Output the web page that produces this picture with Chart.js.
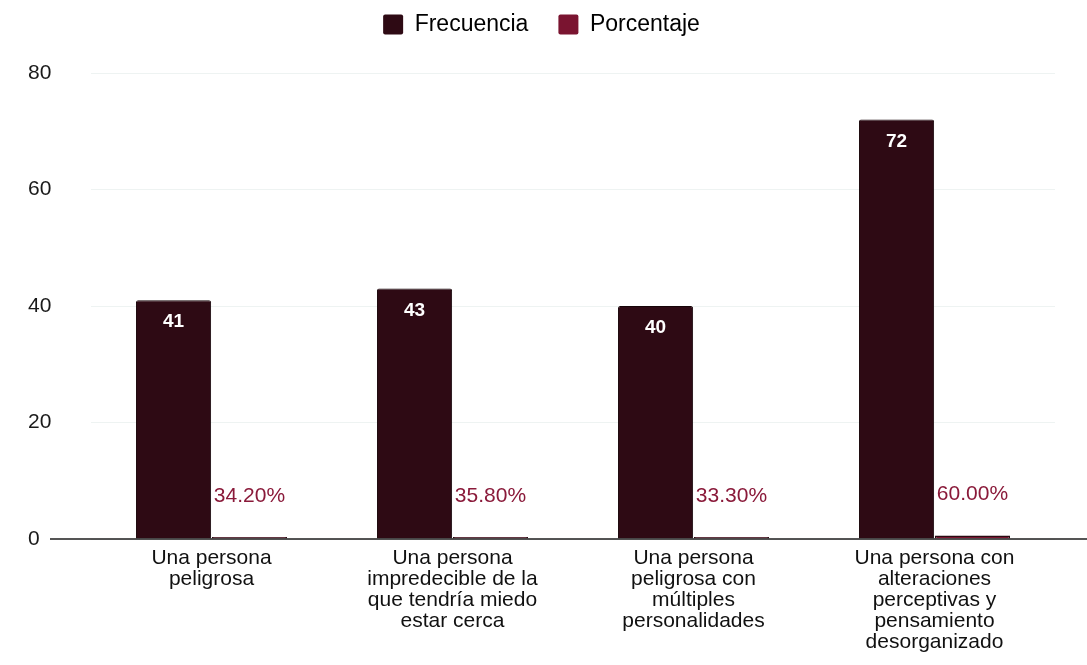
<!DOCTYPE html>
<html>
<head>
<meta charset="utf-8">
<script src="https://cdn.jsdelivr.net/npm/chart.js@4"></script>
<style>
  html, body { margin: 0; padding: 0; background: #fff; }
  #wrap { width: 1087px; height: 665px; position: relative; }
</style>
</head>
<body>
<div id="wrap"><canvas id="chart"></canvas></div>
<script>
// categories (multi-line labels) and series
const categories = [
    ["Una persona", "peligrosa"],
    ["Una persona", "impredecible de la", "que tendría miedo", "estar cerca"],
    ["Una persona", "peligrosa con", "múltiples", "personalidades"],
    ["Una persona con", "alteraciones", "perceptivas y", "pensamiento", "desorganizado"]
];
const frecuencia = [41, 43, 40, 72];
const porcentaje = [0.342, 0.358, 0.333, 0.60];
const yTicks = [0, 20, 40, 60, 80];

const FONT = "'Liberation Sans', Arial, sans-serif";

// give the legend a fixed height so the plot starts where the reference does
const legendSpacer = {
    id: "legendSpacer",
    beforeInit(chart) {
        const origFit = chart.legend.fit;
        chart.legend.fit = function () {
            origFit.call(this);
            this.height = 90;
        };
    }
};

// draws value labels + the long baseline
const labelPlugin = {
    id: "labels",
    afterDatasetsDraw(chart) {
        const ctx = chart.ctx;
        const y0 = chart.scales.y.getPixelForValue(0);

        ctx.save();
        ctx.strokeStyle = "#1c1c1c";
        ctx.lineWidth = 1.5;
        ctx.beginPath();
        ctx.moveTo(50, y0);
        ctx.lineTo(chart.width, y0);
        ctx.stroke();

        ctx.textAlign = "center";
        ctx.textBaseline = "middle";

        chart.getDatasetMeta(0).data.forEach((bar, i) => {
            ctx.fillStyle = "#ffffff";
            ctx.font = "bold 19px " + FONT;
            ctx.fillText(frecuencia[i], bar.x, bar.y + 22);
        });
        chart.getDatasetMeta(1).data.forEach((bar, i) => {
            ctx.fillStyle = "#8a1a3a";
            ctx.font = "21px " + FONT;
            ctx.fillText((porcentaje[i] * 100).toFixed(2) + "%", bar.x, bar.y - 41);
        });
        ctx.restore();
    }
};

const ctx = document.getElementById("chart").getContext("2d");
new Chart(ctx, {
    type: "bar",
    data: {
        labels: categories,
        datasets: [
            {
                label: "Frecuencia",
                data: frecuencia,
                backgroundColor: "#2e0a14",
                borderColor: "#160408",
                borderWidth: 1,
                borderRadius: { topLeft: 2, topRight: 2 },
                borderSkipped: "bottom"
            },
            {
                label: "Porcentaje",
                data: porcentaje,
                backgroundColor: "#7a1430",
                borderColor: "#2a0a12",
                borderWidth: 1.5,
                borderSkipped: "bottom"
            }
        ]
    },
    options: {
        responsive: true,
        maintainAspectRatio: false,
        animation: false,
        layout: { padding: { left: 28, right: 32, top: -17, bottom: 11 } },
        datasets: { bar: { categoryPercentage: 0.63, barPercentage: 0.99 } },
        plugins: {
            tooltip: { enabled: false },
            legend: {
                position: "top",
                labels: {
                    color: "#1a1a1a",
                    font: { family: FONT, size: 23 },
                    boxWidth: 20,
                    boxHeight: 20,
                    padding: 30,
                    generateLabels(chart) {
                        return chart.data.datasets.map((ds, i) => ({
                            text: ds.label,
                            fillStyle: ds.backgroundColor,
                            strokeStyle: ds.backgroundColor,
                            lineWidth: 0,
                            datasetIndex: i,
                            borderRadius: 2
                        }));
                    }
                }
            }
        },
        scales: {
            x: {
                grid: { display: false },
                border: { display: false },
                afterFit(axis) {
                    axis.paddingLeft = 0;
                    axis.paddingRight = 0;
                },
                ticks: {
                    color: "#111",
                    font: { family: FONT, size: 21, lineHeight: 1.0 },
                    padding: 1,
                    maxRotation: 0,
                    autoSkip: false
                }
            },
            y: {
                min: 0,
                max: 80,
                afterBuildTicks(axis) {
                    axis.ticks = yTicks.map(v => ({ value: v }));
                },
                afterFit(axis) {
                    axis.width = 63;
                },
                grid: { color: "#eef3f2", drawTicks: false, lineWidth: 1 },
                border: { display: false },
                ticks: {
                    color: "#1a1a1a",
                    font: { family: FONT, size: 21 },
                    padding: 40,
                    crossAlign: "far"
                }
            }
        }
    },
    plugins: [legendSpacer, labelPlugin]
});
</script>
</body>
</html>
